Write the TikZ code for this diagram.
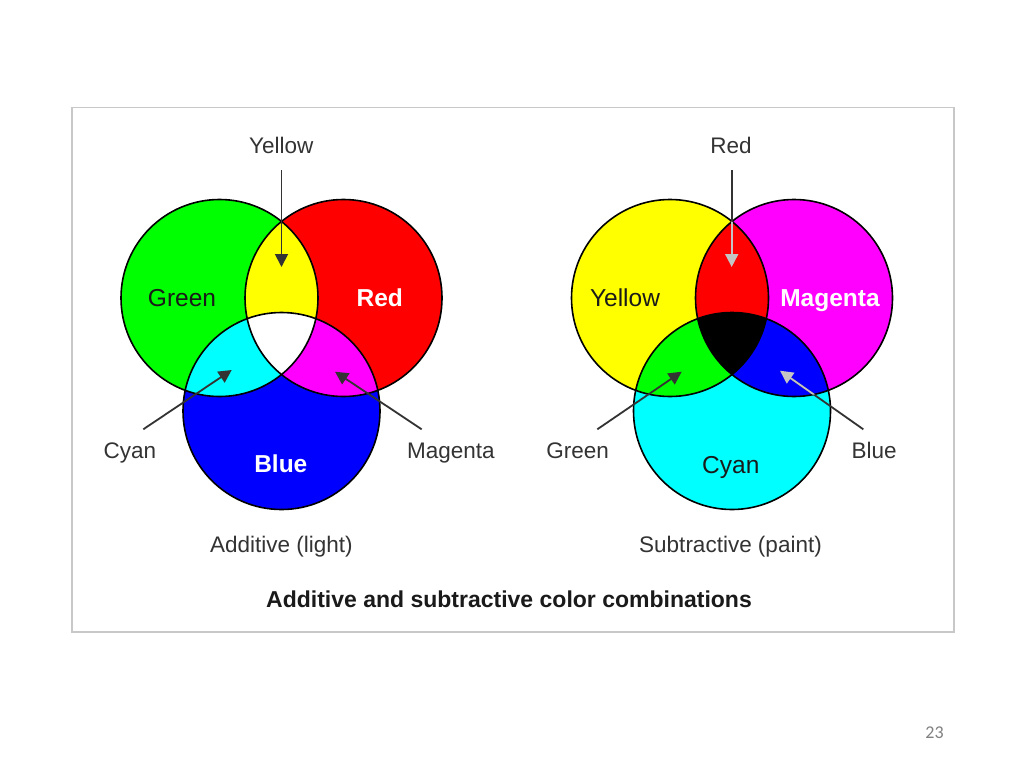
\documentclass[tikz,border=0pt]{standalone}
\usepackage{fontspec}
\setmainfont{Liberation Sans}
\newfontfamily\pagefont{Carlito}
\usetikzlibrary{arrows.meta}
\definecolor{lbl}{HTML}{333333}
\definecolor{ttl}{HTML}{1A1A1A}
\definecolor{frame}{HTML}{C8C8C8}
\definecolor{vgreen}{HTML}{00FF00}
\definecolor{vred}{HTML}{FF0000}
\definecolor{vblue}{HTML}{0000FF}
\definecolor{vyellow}{HTML}{FFFF00}
\definecolor{vcyan}{HTML}{00FFFF}
\definecolor{vmagenta}{HTML}{FF00FF}
\definecolor{lightarrow}{HTML}{C4C4C4}
\definecolor{pagenum}{HTML}{808080}
\begin{document}
\begin{tikzpicture}[x=1pt,y=-1pt,
  venn/.style={circle, draw=black, line width=1.6pt, minimum size=197pt, inner sep=0pt},
  lab/.style={font=\fontsize{22.5}{27}\selectfont, text=lbl, inner sep=0pt, anchor=base},
  inlab/.style={font=\fontsize{24.5}{29}\selectfont, text=ttl, inner sep=0pt, anchor=base},
  inlabw/.style={font=\fontsize{24.5}{29}\selectfont\bfseries, text=white, inner sep=0pt, anchor=base},
  pointer/.style={draw=lbl, line width=1.8pt, -{Triangle[length=13pt,width=13pt]}},
  pointerlight/.style={draw=lightarrow, line width=1.8pt, -{Triangle[length=13pt,width=13pt]}},
  shaft/.style={draw=lbl, line width=1.8pt},
]
\useasboundingbox (0,0) rectangle (1024,768);
\fill[white] (0,0) rectangle (1024,768);
\draw[frame, line width=1.5pt] (72,107.5) rectangle (954,632);

% ---------- centres ----------
\coordinate (G) at (219.5,298);
\coordinate (R) at (343.5,298);
\coordinate (B) at (281.5,411);
\coordinate (Y) at (670,298);
\coordinate (M) at (794,298);
\coordinate (C) at (732,411);
\def\rr{98.5}

% ---------- additive fills ----------
\fill[vgreen] (G) circle[radius=\rr];
\fill[vred] (R) circle[radius=\rr];
\fill[vblue] (B) circle[radius=\rr];
\begin{scope}
  \clip (G) circle[radius=\rr];
  \fill[vyellow] (R) circle[radius=\rr];
  \fill[vcyan] (B) circle[radius=\rr];
\end{scope}
\begin{scope}
  \clip (R) circle[radius=\rr];
  \fill[vmagenta] (B) circle[radius=\rr];
\end{scope}
\begin{scope}
  \clip (G) circle[radius=\rr];
  \clip (R) circle[radius=\rr];
  \fill[white] (B) circle[radius=\rr];
\end{scope}
\node[venn] (cG) at (G) {};
\node[venn] (cR) at (R) {};
\node[venn] (cB) at (B) {};

% ---------- subtractive fills ----------
\fill[vyellow] (Y) circle[radius=\rr];
\fill[vmagenta] (M) circle[radius=\rr];
\fill[vcyan] (C) circle[radius=\rr];
\begin{scope}
  \clip (Y) circle[radius=\rr];
  \fill[vred] (M) circle[radius=\rr];
  \fill[vgreen] (C) circle[radius=\rr];
\end{scope}
\begin{scope}
  \clip (M) circle[radius=\rr];
  \fill[vblue] (C) circle[radius=\rr];
\end{scope}
\begin{scope}
  \clip (Y) circle[radius=\rr];
  \clip (M) circle[radius=\rr];
  \fill[black] (C) circle[radius=\rr];
\end{scope}
\node[venn] (cY) at (Y) {};
\node[venn] (cM) at (M) {};
\node[venn] (cC) at (C) {};

% ---------- additive labels ----------
\node[lab] (lYellow) at (281.2,153.3) {Yellow};
\node[inlab] (iGreen) at (182,306.7) {Green};
\node[inlabw] (iRed) at (379.7,306.7) {Red};
\node[inlabw] (iBlue) at (280.8,472.7) {Blue};
\node[lab] (lCyan) at (130,458.3) {Cyan};
\node[lab] (lMagenta) at (450.8,458.3) {Magenta};
\node[lab] (capA) at (281.3,552.7) {Additive (light)};

% ---------- subtractive labels ----------
\node[lab] (lRed) at (731,153.3) {Red};
\node[inlab] (iYellow) at (625,306.7) {Yellow};
\node[inlabw] (iMagenta) at (830,306.7) {Magenta};
\node[inlab] (iCyan) at (730.8,473.3) {Cyan};
\node[lab] (lGreen) at (577.7,458.3) {Green};
\node[lab] (lBlue) at (874.2,458.3) {Blue};
\node[lab] (capS) at (730.5,552.7) {Subtractive (paint)};

\node[font=\fontsize{23}{28}\selectfont\bfseries, text=ttl, inner sep=0pt, anchor=base] (title) at (509,607.3) {Additive and subtractive color combinations};
\node[font=\pagefont\fontsize{18}{22}\selectfont, text=pagenum, inner sep=0pt, anchor=base] (pnum) at (934.5,738.3) {23};

% ---------- arrow end points ----------
\coordinate (aYs) at (281.5,170);   \coordinate (aYt) at (281.5,267);
\coordinate (aCs) at (143.3,429.3); \coordinate (aCt) at (231.7,370);
\coordinate (aMs) at (421.7,429.3); \coordinate (aMt) at (335,371.7);
\coordinate (sRs) at (731.7,170);   \coordinate (sRt) at (731.7,267);
\coordinate (sGs) at (597.3,429.3); \coordinate (sGt) at (681.7,371.7);
\coordinate (sBs) at (863.3,429.3); \coordinate (sBt) at (780,370.7);

% ---------- arrows ----------
\draw[pointer] (aYs) -- (aYt);
\draw[pointer] (aCs) -- (aCt);
\draw[pointer] (aMs) -- (aMt);
\draw[pointer] (sGs) -- (sGt);

\draw[shaft, shorten >=10pt] (sRs) -- (sRt);
\begin{scope}
  \clip (Y) circle[radius=\rr];
  \clip (M) circle[radius=\rr];
  \draw[pointerlight] (sRs) -- (sRt);
\end{scope}
\draw[shaft, shorten >=10pt] (sBs) -- (sBt);
\begin{scope}
  \clip (M) circle[radius=\rr];
  \clip (C) circle[radius=\rr];
  \draw[pointerlight] (sBs) -- (sBt);
\end{scope}
\end{tikzpicture}
\end{document}
